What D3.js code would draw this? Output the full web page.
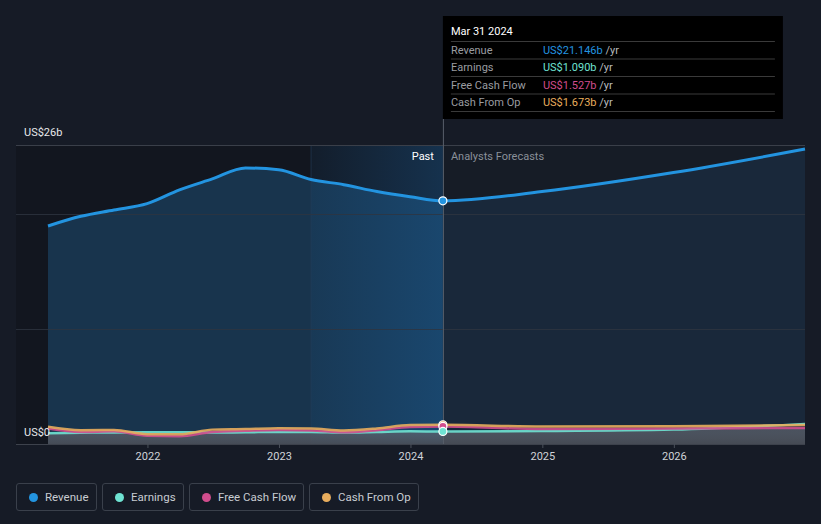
<!DOCTYPE html>
<html>
<head>
<meta charset="utf-8">
<script src="https://cdn.jsdelivr.net/npm/d3@7"></script>
<style>
  html, body { margin: 0; padding: 0; background: #161b26; }
  body { width: 821px; height: 524px; overflow: hidden; font-family: Roboto, "Noto Sans", sans-serif; }
  .legend div { position: absolute; top: 483px; border: 1px solid #3a404b; border-radius: 3px; height: 28px;
    padding-left: 12px; display: flex; align-items: center; color: #c8ccd2; font-size: 11.5px; box-sizing: border-box; }
  .legend span { width: 9px; height: 9px; border-radius: 50%; display: inline-block; margin-right: 7px; }
</style>
</head>
<body>
<div id="chart_div"></div>
<div class="legend" id="legend"></div>
<script>
// quarterly history (Mar 2021 .. Mar 2024) + analyst forecasts, US$ billions
const pastDates = ["2021-03-31","2021-06-30","2021-09-30","2021-12-31","2022-03-31","2022-06-30","2022-09-30",
  "2022-12-31","2023-03-31","2023-06-30","2023-09-30","2023-12-31","2024-03-31"];
const revenuePast  = [18.96, 19.8, 20.35, 20.9, 22.1, 23.05, 24.0, 23.85, 23.0, 22.55, 21.95, 21.5, 21.146];
const earningsPast = [0.93, 0.98, 1.0, 1.02, 1.03, 1.0, 1.02, 1.05, 1.05, 1.0, 1.05, 1.1, 1.09];
const fcfPast      = [1.35, 1.05, 1.1, 0.72, 0.68, 1.05, 1.15, 1.22, 1.18, 1.02, 1.2, 1.48, 1.527];
const cfoPast      = [1.5, 1.2, 1.22, 0.85, 0.85, 1.25, 1.3, 1.38, 1.35, 1.18, 1.35, 1.65, 1.673];

const fcDates       = ["2024-03-31","2024-12-31","2025-12-31","2026-12-31"];
const revenueFc     = [21.146, 21.95, 23.6, 25.65];
const earningsFc    = [1.09, 1.12, 1.25, 1.75];
const fcfFc         = [1.527, 1.3, 1.35, 1.4];
const cfoFc         = [1.673, 1.52, 1.55, 1.65];

const yTicks = [0, 10, 20, 26];
const xTickYears = [2022, 2023, 2024, 2025, 2026];

const seriesNames  = ["Revenue", "Earnings", "Free Cash Flow", "Cash From Op"];
const seriesColors = ["#2394e0", "#6fe3d3", "#d14d8d", "#e8ad5d"];
const tipValues    = ["US$21.146b", "US$1.090b", "US$1.527b", "US$1.673b"];

const width = 821, height = 480;
const parse = d3.timeParse("%Y-%m-%d");
const x = d3.scaleTime().domain([parse("2021-03-31"), parse("2026-12-31")]).range([48, 805]);
const y = d3.scaleLinear().domain([0, 26]).range([444, 145]);
const nowDate = parse("2024-03-31");
const hiStart = parse("2023-03-31");

const svg = d3.select("#chart_div").append("svg")
  .attr("width", width).attr("height", height)
  .attr("style", "position:absolute;left:0;top:0;font-family:Roboto, sans-serif;");

const defs = svg.append("defs");
const g1 = defs.append("linearGradient").attr("id", "hiGrad").attr("x1", 0).attr("x2", 1).attr("y1", 0).attr("y2", 0);
g1.append("stop").attr("offset", 0).attr("stop-color", "#1d72ba").attr("stop-opacity", 0.08);
g1.append("stop").attr("offset", 1).attr("stop-color", "#1d72ba").attr("stop-opacity", 0.3);
const g2 = defs.append("linearGradient").attr("id", "greyGrad").attr("x1", 0).attr("x2", 0).attr("y1", 0).attr("y2", 1);
g2.append("stop").attr("offset", 0).attr("stop-color", "#6b6f78").attr("stop-opacity", 0.6);
g2.append("stop").attr("offset", 1).attr("stop-color", "#4a4e57").attr("stop-opacity", 0.9);

// past region darker background
svg.append("rect").attr("x", 16).attr("y", 145).attr("width", x(nowDate) - 16).attr("height", 444 - 145)
  .attr("fill", "#12161f");
svg.append("rect").attr("x", x(nowDate)).attr("y", 145).attr("width", 805 - x(nowDate)).attr("height", 444 - 145)
  .attr("fill", "#161c26");

const pastRev = pastDates.map((d, i) => ({ date: parse(d), v: revenuePast[i] }));
const fcRev = fcDates.map((d, i) => ({ date: parse(d), v: revenueFc[i] }));

const area = d3.area().x(d => x(d.date)).y0(y(0)).y1(d => y(d.v)).curve(d3.curveMonotoneX);
const line = d3.line().x(d => x(d.date)).y(d => y(d.v)).curve(d3.curveMonotoneX);

svg.append("path").datum(pastRev).attr("d", area).attr("fill", "#18344d");
svg.append("path").datum(fcRev).attr("d", area).attr("fill", "#19283a");

// last-year highlight band
svg.append("rect").attr("x", x(hiStart)).attr("y", 145).attr("width", x(nowDate) - x(hiStart)).attr("height", 444 - 145)
  .attr("fill", "url(#hiGrad)");
svg.append("line").attr("x1", x(hiStart)).attr("x2", x(hiStart)).attr("y1", 145).attr("y2", 444)
  .attr("stroke", "#24405c").attr("stroke-opacity", 0.6);

// grid lines
svg.append("g").selectAll("line").data(yTicks.filter(d => d > 0)).join("line")
  .attr("x1", 16).attr("x2", 805).attr("y1", d => y(d) + 0.5).attr("y2", d => y(d) + 0.5)
  .attr("stroke", d => d === 26 ? "#3a3f49" : "#2e3440").attr("stroke-opacity", d => d === 26 ? 1 : 0.8);

// small series
const small = [
  { past: earningsPast, fc: earningsFc, color: seriesColors[1] },
  { past: fcfPast, fc: fcfFc, color: seriesColors[2] },
  { past: cfoPast, fc: cfoFc, color: seriesColors[3] }
];
const allDates = pastDates.concat(fcDates.slice(1)).map(parse);
const minSeries = allDates.map((d, i) => ({ date: d,
  v: d3.min(small, s => s.past.concat(s.fc.slice(1))[i]) }));
svg.append("path").datum(minSeries).attr("d", area).attr("fill", "url(#greyGrad)");

small.forEach(s => {
  const vals = s.past.concat(s.fc.slice(1));
  const data = allDates.map((d, i) => ({ date: d, v: vals[i] }));
  svg.append("path").datum(data).attr("d", line).attr("fill", "none")
    .attr("stroke", s.color).attr("stroke-width", 2.5).attr("stroke-opacity", 0.9);
});

// revenue line
svg.append("path").datum(pastRev.concat(fcRev.slice(1))).attr("d", line).attr("fill", "none")
  .attr("stroke", seriesColors[0]).attr("stroke-width", 3);

// axis line and ticks
svg.append("line").attr("x1", 16).attr("x2", 805).attr("y1", 444.5).attr("y2", 444.5).attr("stroke", "#3d424c");
const xAxis = svg.append("g").attr("transform", "translate(0,444)")
  .call(d3.axisBottom(x).tickValues(xTickYears.map(yr => new Date(yr, 0, 1))).tickFormat(d3.timeFormat("%Y")).tickSize(4).tickPadding(4));
xAxis.select(".domain").remove();
xAxis.selectAll("line").attr("stroke", "#4a505a");
xAxis.selectAll("text").attr("fill", "#d0d3d8").attr("font-size", 11).attr("font-family", "Roboto, sans-serif");

// y labels
svg.append("text").attr("x", 24).attr("y", 136).attr("fill", "#e6e8eb").attr("font-size", 11).text("US$26b");
svg.append("text").attr("x", 24).attr("y", 436).attr("fill", "#e6e8eb").attr("font-size", 11).text("US$0");

// Past / forecast labels
svg.append("text").attr("x", x(nowDate) - 9).attr("y", 160).attr("text-anchor", "end")
  .attr("fill", "#ffffff").attr("font-size", 11).text("Past");
svg.append("text").attr("x", x(nowDate) + 8).attr("y", 160)
  .attr("fill", "#8a9099").attr("font-size", 11).text("Analysts Forecasts");

// tooltip vertical line
svg.append("line").attr("x1", x(nowDate) + 0.5).attr("x2", x(nowDate) + 0.5).attr("y1", 119).attr("y2", 444)
  .attr("stroke", "#59606b").attr("stroke-width", 1);

// markers at now
const nowVals = [revenuePast, earningsPast, fcfPast, cfoPast].map(a => a[a.length - 1]);
[3, 2, 1, 0].forEach(i => {
  svg.append("circle").attr("cx", x(nowDate)).attr("cy", y(nowVals[i])).attr("r", 4)
    .attr("fill", seriesColors[i]).attr("stroke", "#ffffff").attr("stroke-width", 1.2);
});

// tooltip
const tip = svg.append("g").attr("transform", `translate(${x(nowDate)},16)`);
tip.append("rect").attr("width", 340).attr("height", 103).attr("fill", "#000000");
tip.append("text").attr("x", 8).attr("y", 19).attr("fill", "#ffffff").attr("font-size", 11).text("Mar 31 2024");
seriesNames.forEach((n, i) => {
  const ry = 25.5 + i * 17.5;
  tip.append("line").attr("x1", 8).attr("x2", 332).attr("y1", ry).attr("y2", ry).attr("stroke", "#3a3a3a");
  tip.append("text").attr("x", 8).attr("y", ry + 12).attr("fill", "#9a9ca0").attr("font-size", 11).text(n);
  const t = tip.append("text").attr("x", 100).attr("y", ry + 12).attr("font-size", 11);
  t.append("tspan").attr("fill", seriesColors[i]).text(tipValues[i]);
  t.append("tspan").attr("fill", "#b8babd").text(" /yr");
});
tip.append("line").attr("x1", 8).attr("x2", 332).attr("y1", 95.5).attr("y2", 95.5).attr("stroke", "#3a3a3a");

// legend
const legendLeft = [16, 102, 189, 309];
const legendWidth = [81, 82, 115, 110];
const legend = d3.select("#legend");
seriesNames.forEach((n, i) => {
  const item = legend.append("div").style("left", legendLeft[i] + "px").style("width", legendWidth[i] + "px");
  item.append("span").style("background", seriesColors[i]);
  item.append("label").text(n);
});
</script>
</body>
</html>
